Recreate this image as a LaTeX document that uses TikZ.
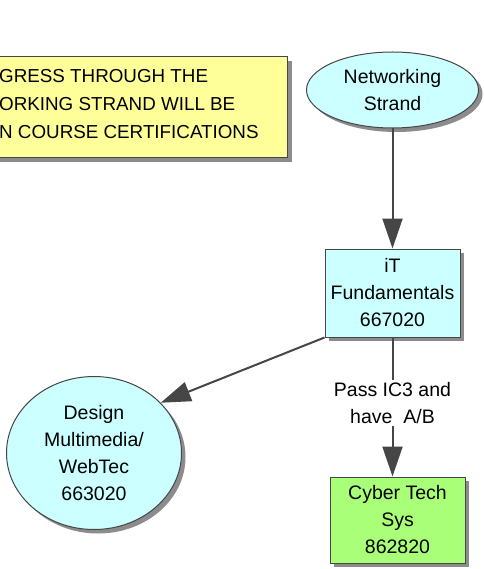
\documentclass[tikz,border=0pt]{standalone}
\usepackage{fontspec}
\setmainfont{Liberation Sans}
\usepackage{xcolor}
\usetikzlibrary{shapes.geometric}
\usetikzlibrary{shadows}
\usetikzlibrary{arrows.meta}
\usetikzlibrary{positioning}
\definecolor{ltcyan}{RGB}{204,255,255}
\definecolor{ltyellow}{RGB}{255,255,153}
\definecolor{ltgreen}{RGB}{170,255,120}
\definecolor{linegray}{RGB}{70,70,70}

\begin{document}
\begin{tikzpicture}[x=1pt,y=-1pt,
    font=\fontsize{19.5}{27}\selectfont,
    shade/.style={drop shadow={shadow xshift=4pt,shadow yshift=-4pt,fill=black!45,opacity=1}},
    course/.style={draw=linegray,line width=1pt,shade,align=center,inner sep=0pt,
      minimum width=135pt},
    strand/.style={ellipse,draw=linegray,line width=1pt,shade,fill=ltcyan,align=center,inner sep=0pt},
    link/.style={draw=linegray,line width=2pt,-{Triangle[length=30pt,width=20pt]}},
  ]
  \useasboundingbox (0,0) rectangle (483,569);
  \clip (0,0) rectangle (483,569);

  % note box
  \node[course,fill=ltyellow,minimum width=0pt,minimum height=101pt] (note)
    at (113.5,107.5) {\hspace*{348pt}};
  \node[anchor=west,align=left,inner sep=0pt,font=\fontsize{18.8}{28}\selectfont] (notetxt) at (-1,104)
    {GRESS THROUGH THE\\ORKING STRAND WILL BE\\N COURSE CERTIFICATIONS};

  % strand and courses
  \node[strand,minimum width=172pt,minimum height=76pt] (net) at (392.5,90) {Networking\\Strand};
  \node[course,fill=ltcyan,minimum height=88pt] (fund) at (392.5,293) {iT\\Fundamentals\\667020};
  \node[strand,minimum width=175pt,minimum height=153pt] (design) at (94,453)
    {Design\\Multimedia/\\WebTec\\663020};
  \node[course,fill=ltgreen,minimum height=86pt] (cyber) at (397.5,520) {Cyber Tech\\Sys\\862820};

  % links
  \draw[link] (net.south) -- (fund.north);
  \draw[link] (fund.south west) -- (design.37);
  \draw[link] (fund.south) -- node[fill=white,inner sep=2pt,align=center,yshift=4pt] (pass)
    {Pass IC3 and\\have\ \ A/B} (fund.south |- cyber.north);

\end{tikzpicture}
\end{document}
